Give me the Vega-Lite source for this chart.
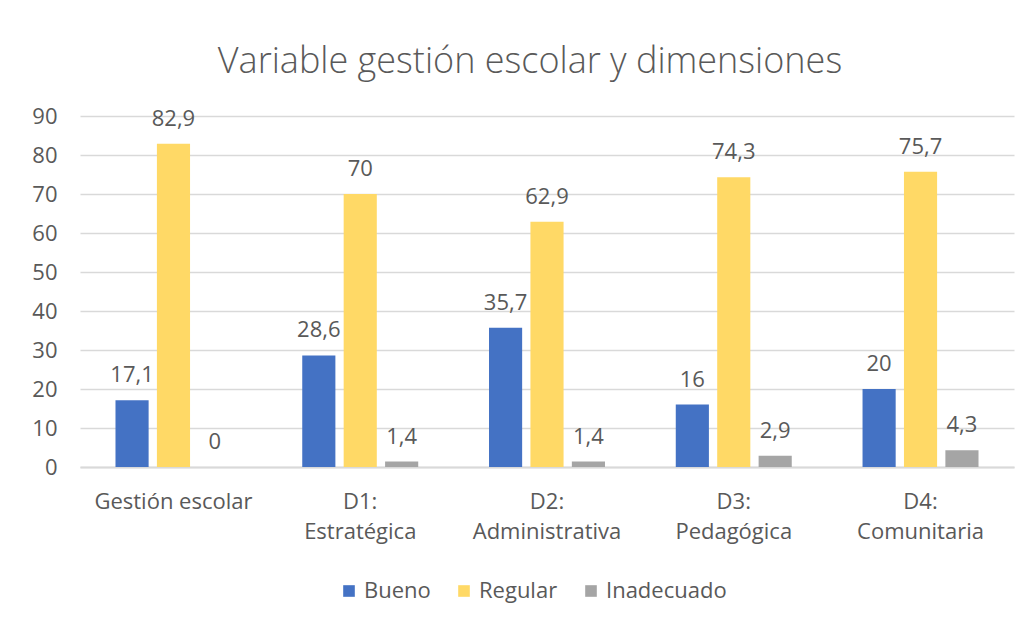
{
  "$schema": "https://vega.github.io/schema/vega-lite/v6.json",
  "autosize": "none",
  "width": 934,
  "height": 351,
  "padding": {"left": 80, "top": 116, "right": 18, "bottom": 158},
  "background": "white",
  "config": {
    "font": "Open Sans",
    "view": {"stroke": null},
    "locale": {"number": {"decimal": ",", "thousands": ".", "grouping": [3], "currency": ["", " €"]}}
  },
  "title": {
    "text": "Variable gestión escolar y dimensiones",
    "font": "Open Sans",
    "fontSize": 36,
    "fontWeight": 300,
    "color": "#595959",
    "anchor": "middle",
    "frame": "group",
    "dx": -17,
    "offset": 24
  },
  "data": {
    "values": [
      {"cat": "Gestión escolar", "nivel": "Bueno", "valor": 17.1},
      {"cat": "Gestión escolar", "nivel": "Regular", "valor": 82.9},
      {"cat": "Gestión escolar", "nivel": "Inadecuado", "valor": 0},
      {"cat": "D1: Estratégica", "nivel": "Bueno", "valor": 28.6},
      {"cat": "D1: Estratégica", "nivel": "Regular", "valor": 70},
      {"cat": "D1: Estratégica", "nivel": "Inadecuado", "valor": 1.4},
      {"cat": "D2: Administrativa", "nivel": "Bueno", "valor": 35.7},
      {"cat": "D2: Administrativa", "nivel": "Regular", "valor": 62.9},
      {"cat": "D2: Administrativa", "nivel": "Inadecuado", "valor": 1.4},
      {"cat": "D3: Pedagógica", "nivel": "Bueno", "valor": 16},
      {"cat": "D3: Pedagógica", "nivel": "Regular", "valor": 74.3},
      {"cat": "D3: Pedagógica", "nivel": "Inadecuado", "valor": 2.9},
      {"cat": "D4: Comunitaria", "nivel": "Bueno", "valor": 20},
      {"cat": "D4: Comunitaria", "nivel": "Regular", "valor": 75.7},
      {"cat": "D4: Comunitaria", "nivel": "Inadecuado", "valor": 4.3}
    ]
  },
  "encoding": {
    "x": {
      "field": "cat",
      "type": "nominal",
      "sort": null,
      "scale": {"paddingInner": 0.379, "paddingOuter": 0.19},
      "axis": {
        "title": null,
        "labelAngle": 0,
        "labelFont": "Open Sans",
        "labelFontSize": 22,
        "labelColor": "#595959",
        "labelPadding": 24,
        "labelLineHeight": 30,
        "labelExpr": "datum.label == 'Gestión escolar' ? datum.label : split(datum.label, ' ')",
        "ticks": false,
        "domainColor": "#d9d9d9",
        "domainWidth": 2,
        "grid": false
      }
    },
    "xOffset": {
      "field": "nivel",
      "type": "nominal",
      "sort": ["Bueno", "Regular", "Inadecuado"],
      "scale": {"paddingInner": 0.2, "paddingOuter": 0}
    },
    "y": {
      "field": "valor",
      "type": "quantitative",
      "scale": {"domain": [0, 90], "nice": false},
      "axis": {
        "title": null,
        "values": [0, 10, 20, 30, 40, 50, 60, 70, 80, 90],
        "labelFont": "Open Sans",
        "labelFontSize": 22,
        "labelColor": "#595959",
        "labelPadding": 23,
        "ticks": false,
        "domain": false,
        "gridColor": "#d9d9d9",
        "gridWidth": 1.5
      }
    }
  },
  "layer": [
    {
      "mark": {"type": "bar"},
      "encoding": {
        "color": {
          "field": "nivel",
          "type": "nominal",
          "sort": ["Bueno", "Regular", "Inadecuado"],
          "scale": {"domain": ["Bueno", "Regular", "Inadecuado"], "range": ["#4472C4", "#FFD966", "#A5A5A5"]},
          "legend": {
            "title": null,
            "orient": "none",
            "direction": "horizontal",
            "legendX": 258,
            "legendY": 464,
            "symbolType": "square",
            "symbolSize": 135,
            "symbolStrokeWidth": 0,
            "labelFont": "Open Sans",
            "labelFontSize": 22,
            "labelColor": "#595959",
            "labelOffset": 4,
            "columnPadding": 22
          }
        }
      }
    },
    {
      "mark": {"type": "text", "baseline": "alphabetic", "dy": -18, "font": "Open Sans", "fontSize": 22, "color": "#595959"},
      "encoding": {
        "text": {"field": "valor", "type": "quantitative", "format": ".1~f"}
      }
    }
  ]
}
